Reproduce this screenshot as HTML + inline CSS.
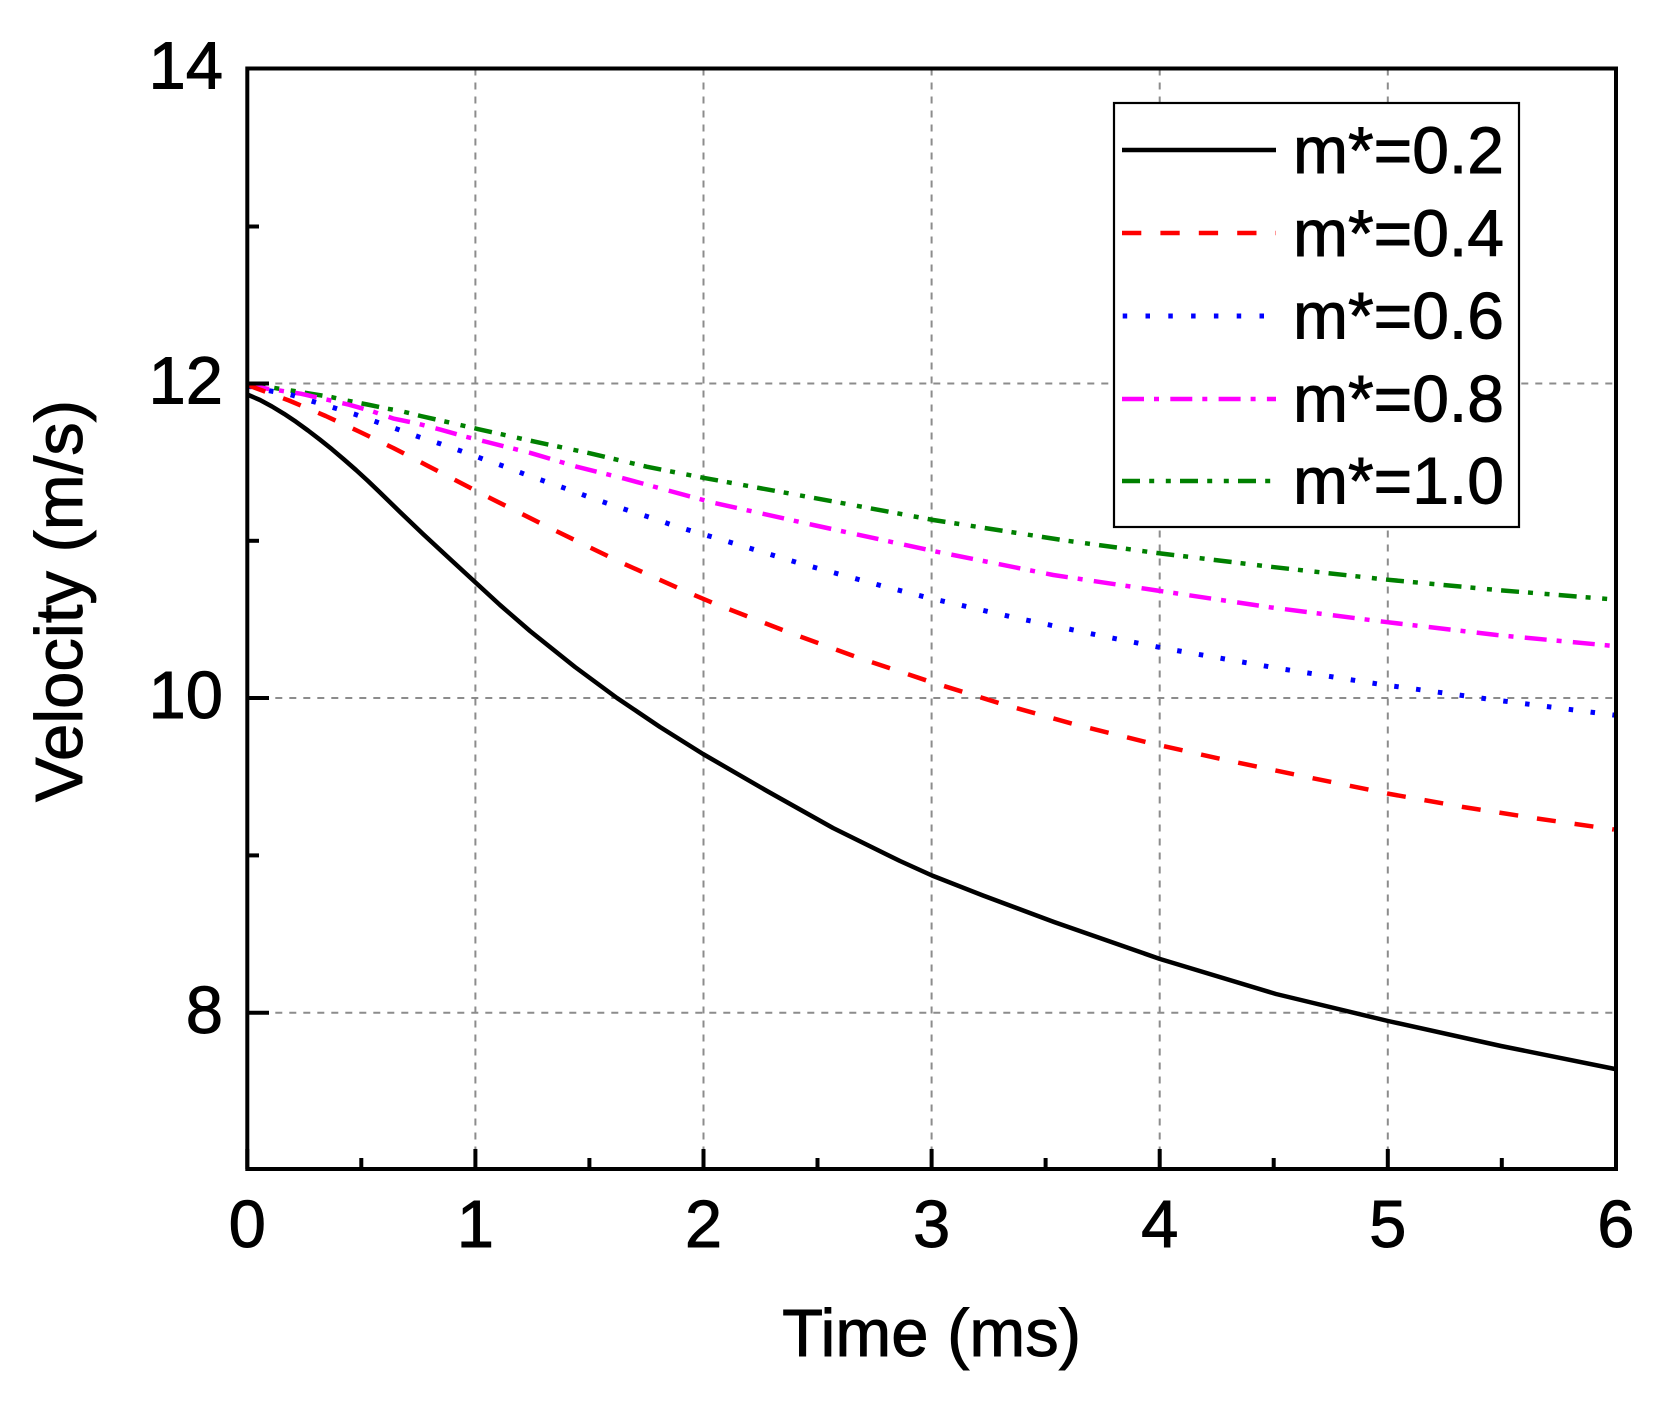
<!DOCTYPE html>
<html>
<head>
<meta charset="utf-8">
<style>
  html, body { margin: 0; padding: 0; background: #ffffff; }
  svg { display: block; }
  text { font-family: "Liberation Sans", Arial, sans-serif; fill: #000; stroke: #000; stroke-width: 0.9px; }
</style>
</head>
<body>
<svg width="1667" height="1401" viewBox="0 0 1667 1401" xmlns="http://www.w3.org/2000/svg">
  <rect x="0" y="0" width="1667" height="1401" fill="#ffffff"/>

  <!-- Grid lines -->
  <g stroke="#8c8c8c" stroke-width="2" stroke-dasharray="7 7" fill="none">
    <line x1="475.4" y1="68.5" x2="475.4" y2="1169"/>
    <line x1="703.5" y1="68.5" x2="703.5" y2="1169"/>
    <line x1="931.6" y1="68.5" x2="931.6" y2="1169"/>
    <line x1="1159.7" y1="68.5" x2="1159.7" y2="1169"/>
    <line x1="1387.8" y1="68.5" x2="1387.8" y2="1169"/>
    <line x1="247.3" y1="383.5" x2="1616" y2="383.5"/>
    <line x1="247.3" y1="698" x2="1616" y2="698"/>
    <line x1="247.3" y1="1012.8" x2="1616" y2="1012.8"/>
  </g>

  <!-- Series -->
  <g fill="none" stroke-linejoin="round">
    <!-- m*=1.0 green dash-dot-dot -->
    <polyline stroke="#008000" stroke-width="4.5" stroke-dasharray="18 9 5 11.6 5 9.2"
      points="247.5,384.5 254,384.7 275.7,388.2 290.7,390.5 310.7,393.7 330.7,397 345.7,400.3 367.3,404.5 387.3,408.7 400.7,411 420.7,416 444,421.3 459,424.7 477.3,428.9 535,441.7 590,453.3 646.7,466.7 703.3,477.8 843.3,503.3 933.3,520 1066.7,540.7 1157,553 1270,566.7 1383.3,579.3 1496.7,590 1614,599.5"/>
    <!-- m*=0.8 magenta dash-dot -->
    <polyline stroke="#ff00ff" stroke-width="4.5" stroke-dasharray="22 10 5 11.3"
      points="247.5,385 254,386.5 267.3,388.7 300.7,393.7 327.3,399.7 349,404.7 372.3,411.3 394,418.7 417.3,423.5 440.7,429.7 464,436.3 485,441.5 531.7,453.3 576.7,466.7 623.3,478.3 670,491 713.3,502.7 813.3,525 933.3,551 1053.3,575 1157,590.5 1270,607.3 1383.3,621.7 1496.7,635 1614,646"/>
    <!-- m*=0.6 blue dotted -->
    <polyline stroke="#0000ff" stroke-width="5" stroke-dasharray="4.5 17.5"
      points="247.5,386 269,390.7 290.7,394.7 312.3,401.3 332.3,407.3 354,414 376.7,422 398.3,429.5 420,437.3 441,444 462.5,451.5 483,459 505,466.7 525,474.3 546,481.7 568,489.3 588,496.7 612,505 632,511.7 653,518.3 673,525.3 695,532 717,538.3 802,564 885,586.7 928,597.7 1015,617.7 1102,636 1168,649 1278,668.3 1378,684 1490,699.3 1600,713.3 1615,715.2"/>
    <!-- m*=0.4 red dashed -->
    <polyline stroke="#ff0000" stroke-width="4.5" stroke-dasharray="19 19"
      points="247.5,385 289,400.5 325.7,416 359,431.5 393.3,448 428,466 490,498 550,528 620,562 687,592 713,603 787,631.7 860,658.3 932,682.3 1003,704.3 1077,725 1150,743 1223,759.5 1307,777 1390,794 1463,807 1537,818.5 1614,829.5"/>
    <!-- m*=0.2 black solid -->
    <polyline stroke="#000000" stroke-width="4.5"
      points="247.3,394.5 260,400 272,406.5 284,413.8 296,421.8 308,430.5 320,439.7 332,449.3 344,459.5 356,470 368,481 380,492.5 400,512 423,534 450,559 475,582 500,605 530,631 575,667 617,698 660,727 703,754 767,791 833,828 900,861 932,875.5 983,895.5 1054,922 1160,959 1276,994 1388,1021 1501,1046 1615,1069"/>
  </g>

  <!-- Ticks (inward) -->
  <g stroke="#000" stroke-width="4" fill="none">
    <line x1="247.3" y1="1169" x2="247.3" y2="1149"/>
    <line x1="475.4" y1="1169" x2="475.4" y2="1149"/>
    <line x1="703.5" y1="1169" x2="703.5" y2="1149"/>
    <line x1="931.6" y1="1169" x2="931.6" y2="1149"/>
    <line x1="1159.7" y1="1169" x2="1159.7" y2="1149"/>
    <line x1="1387.8" y1="1169" x2="1387.8" y2="1149"/>
    <line x1="361.3" y1="1169" x2="361.3" y2="1158"/>
    <line x1="589.4" y1="1169" x2="589.4" y2="1158"/>
    <line x1="817.5" y1="1169" x2="817.5" y2="1158"/>
    <line x1="1045.6" y1="1169" x2="1045.6" y2="1158"/>
    <line x1="1273.7" y1="1169" x2="1273.7" y2="1158"/>
    <line x1="1501.8" y1="1169" x2="1501.8" y2="1158"/>
    <line x1="247.3" y1="383.5" x2="269" y2="383.5"/>
    <line x1="247.3" y1="698" x2="269" y2="698"/>
    <line x1="247.3" y1="1012.8" x2="269" y2="1012.8"/>
    <line x1="247.3" y1="226.5" x2="259" y2="226.5"/>
    <line x1="247.3" y1="540.8" x2="259" y2="540.8"/>
    <line x1="247.3" y1="855.4" x2="259" y2="855.4"/>
  </g>

  <!-- Plot frame -->
  <rect x="247.3" y="68.5" width="1368.7" height="1100.5" fill="none" stroke="#000" stroke-width="4"/>

  <!-- Legend -->
  <rect x="1114" y="103" width="405" height="424" fill="#ffffff" stroke="#000" stroke-width="2.2"/>
  <g fill="none">
    <line x1="1122" y1="150" x2="1276" y2="150" stroke="#000" stroke-width="4.5"/>
    <line x1="1122" y1="233" x2="1276" y2="233" stroke="#ff0000" stroke-width="4.5" stroke-dasharray="19.3 19.1"/>
    <line x1="1122.7" y1="316" x2="1276" y2="316" stroke="#0000ff" stroke-width="5" stroke-dasharray="4.5 18.3"/>
    <line x1="1122" y1="399" x2="1276" y2="399" stroke="#ff00ff" stroke-width="4.5" stroke-dasharray="22 10 5 11.3"/>
    <line x1="1122" y1="481" x2="1276" y2="481" stroke="#008000" stroke-width="4.5" stroke-dasharray="18 9.2 5 11.6 5 9.2"/>
  </g>
  <g font-size="66">
    <text x="1293" y="173">m*=0.2</text>
    <text x="1293" y="256">m*=0.4</text>
    <text x="1293" y="338.5">m*=0.6</text>
    <text x="1293" y="421.5">m*=0.8</text>
    <text x="1293" y="503.5">m*=1.0</text>
  </g>

  <!-- Y tick labels -->
  <g font-size="67" text-anchor="end">
    <text x="223" y="88.5">14</text>
    <text x="223" y="403.5">12</text>
    <text x="223" y="718">10</text>
    <text x="223" y="1033">8</text>
  </g>

  <!-- X tick labels -->
  <g font-size="67" text-anchor="middle">
    <text x="247.3" y="1247">0</text>
    <text x="475.4" y="1247">1</text>
    <text x="703.5" y="1247">2</text>
    <text x="931.6" y="1247">3</text>
    <text x="1159.7" y="1247">4</text>
    <text x="1387.8" y="1247">5</text>
    <text x="1615.9" y="1247">6</text>
  </g>

  <!-- Axis titles -->
  <text x="931.6" y="1356" font-size="67" text-anchor="middle">Time (ms)</text>
  <text x="82" y="601" font-size="67" text-anchor="middle" transform="rotate(-90 82 601)">Velocity (m/s)</text>
</svg>
</body>
</html>
